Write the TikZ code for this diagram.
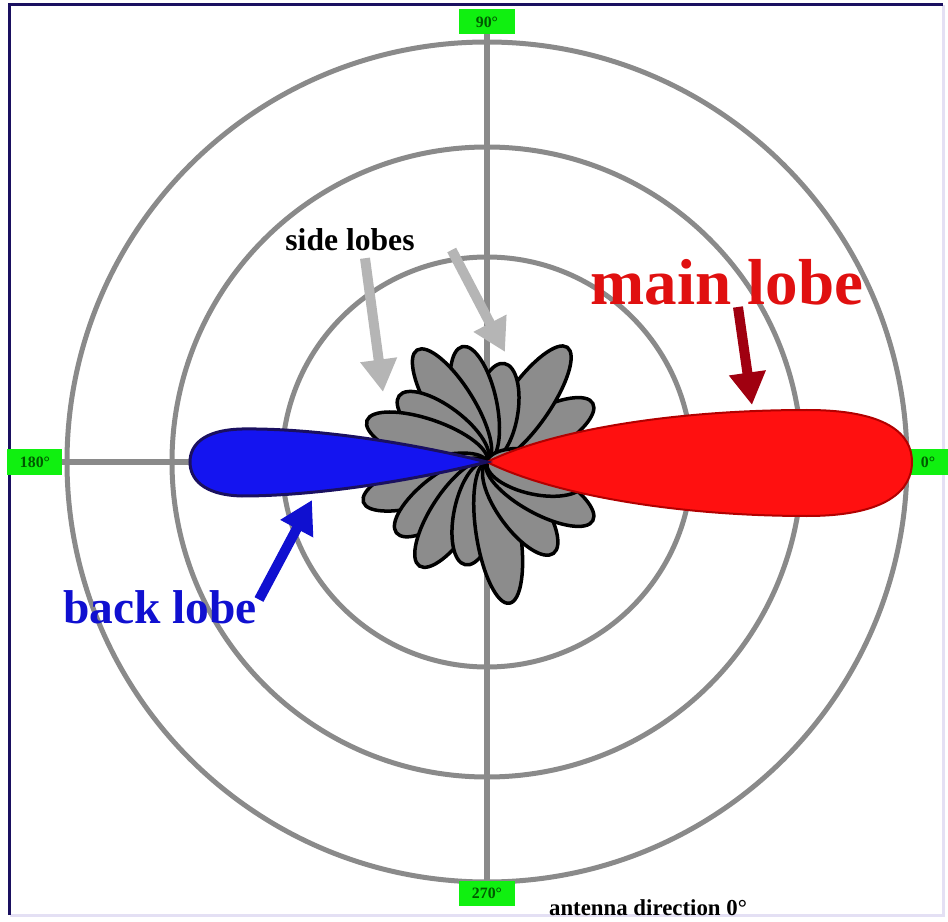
\documentclass[tikz,border=0pt]{standalone}
\usepackage{fontspec}
\setmainfont{Liberation Serif}
\usetikzlibrary{arrows.meta,positioning}

\definecolor{gridgray}{HTML}{8A8A8A}
\definecolor{lobered}{HTML}{FF1010}
\definecolor{textred}{HTML}{E01010}
\definecolor{lobeblue}{HTML}{1414F0}
\definecolor{textblue}{HTML}{1010D0}
\definecolor{darkred}{HTML}{A00010}
\definecolor{arrowgray}{HTML}{B5B5B5}
\definecolor{markgreen}{HTML}{10F010}
\definecolor{framenavy}{HTML}{1A1060}
\definecolor{framelight}{HTML}{E4E0F4}
\definecolor{petalgray}{HTML}{8C8C8C}

\begin{document}
\begin{tikzpicture}[x=0.2mm, y=0.2mm,
    ring/.style={draw=gridgray, line width=1.0mm},
    axis/.style={draw=gridgray, line width=1.2mm},
    dirmark/.style={fill=markgreen, text=green!35!black, font=\bfseries\small, inner sep=1pt, minimum width=11mm, minimum height=5mm},
    petal/.style={fill=petalgray, draw=black, line width=0.7mm},
    arr/.style={line width=2mm, -{Triangle[length=6.5mm, width=7mm]}},
    lbl/.style={font=\bfseries\fontsize{#1}{#1}\selectfont, inner sep=1pt},
]
    \useasboundingbox (-487,-460) rectangle (461,462);

    % frame
    \draw[framelight, line width=0.6mm] (456,457) -- (456,-453) -- (-477,-453);
    \draw[framenavy, line width=0.6mm] (-477,-453) -- (-477,457) -- (456,457);

    % grid
    \foreach \r in {205,315,420}
        \draw[ring] (0,0) circle (\r);
    \draw[axis] (-470,0) -- (440,0);
    \draw[axis] (0,452) -- (0,-443);

    % direction marks
    \node[dirmark] (deg90) at (0,440) {90°};
    \node[dirmark] (deg180) at (-452,0) {180°};
    \node[dirmark, minimum width=8mm] (deg0) at (441,0) {0°};
    \node[dirmark] (deg270) at (0,-431) {270°};

    % side lobes
    \foreach \a/\l in {12/100,29/121,55/140,80/100,102/118,122/132,143/110,161/127,
                       198/130,218/115,237/124,258/105,279/143,306/113,331/121,348/100}
        \filldraw[petal, rotate=\a] (\l/2,0) ellipse ({\l/2} and 22);

    % main lobe
    \filldraw[fill=lobered, draw=red!70!black, line width=0.4mm]
        (0,0) .. controls (60,30) and (180,52) .. (320,52)
        .. controls (400,52) and (425,28) .. (425,0)
        .. controls (425,-28) and (400,-54) .. (320,-54)
        .. controls (180,-54) and (60,-30) .. (0,0) -- cycle;

    % back lobe
    \filldraw[fill=lobeblue, draw=framenavy, line width=0.6mm]
        (0,0) .. controls (-80,20) and (-175,34) .. (-245,33)
        .. controls (-285,32) and (-297,16) .. (-297,0)
        .. controls (-297,-16) and (-285,-33) .. (-245,-34)
        .. controls (-175,-34) and (-80,-20) .. (0,0) -- cycle;

    % labels
    \node[lbl=37, text=textred] (mainlbl) at (240,180) {main lobe};
    \node[lbl=27, text=textblue] (backlbl) at (-327,-145) {back lobe};
    \node[lbl=18, text=black] (sidelbl) at (-137,222) {side lobes};
    \node[lbl=13, text=black] (note) at (161,-446) {antenna direction 0°};

    \coordinate (maintip) at (265,57);
    \coordinate (backtip) at (-175,-38);
    \coordinate (sidetipA) at (-104,70);
    \coordinate (sidetipB) at (18,110);

    \draw[arr, darkred] ([xshift=2.2mm]mainlbl.south) -- (maintip);
    \draw[arr, textblue] ([yshift=1.5mm]backlbl.east) -- (backtip);
    \draw[arr, arrowgray] ([xshift=3mm,yshift=-1mm]sidelbl.south) -- (sidetipA);
    \draw[arr, arrowgray] ([xshift=7mm,yshift=-2mm]sidelbl.east) -- (sidetipB);
\end{tikzpicture}
\end{document}
